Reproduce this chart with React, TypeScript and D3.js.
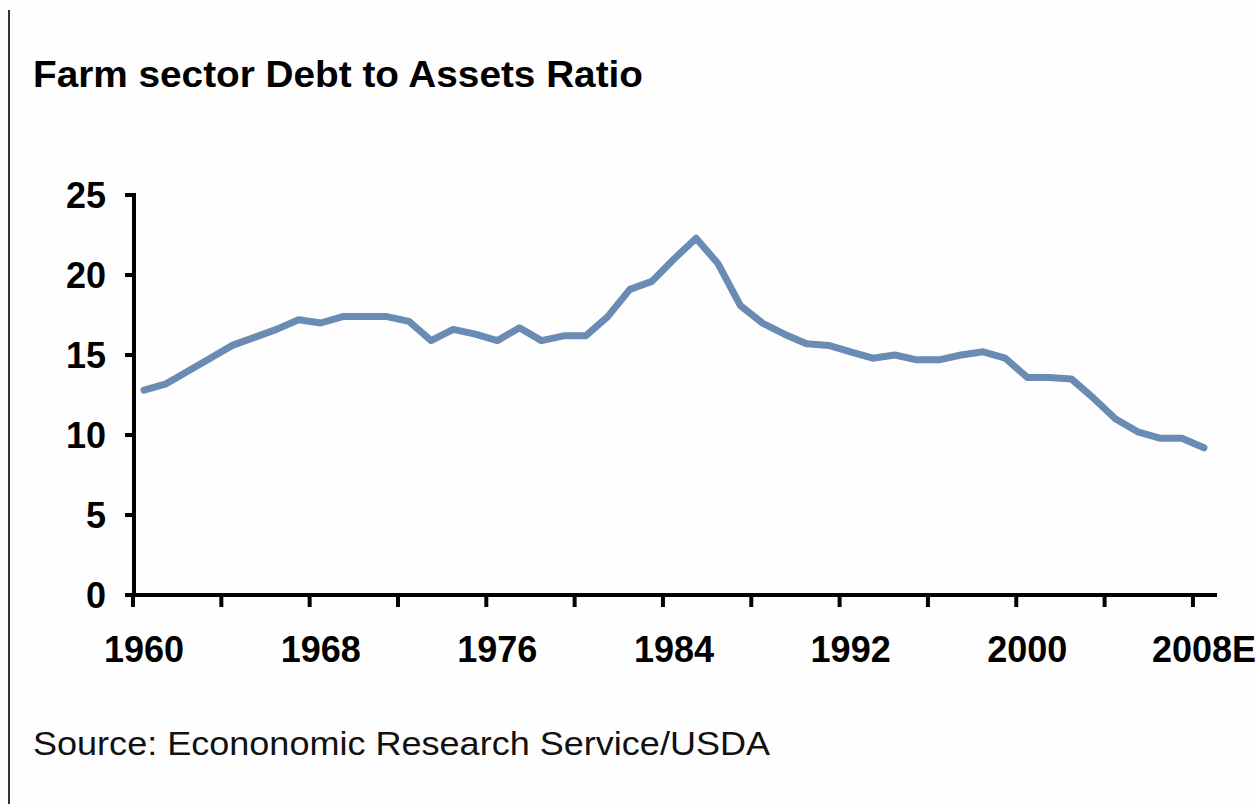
import React from 'react';
import * as d3 from 'd3';

const years: number[] = [
  1960, 1961, 1962, 1963, 1964, 1965, 1966, 1967, 1968, 1969,
  1970, 1971, 1972, 1973, 1974, 1975, 1976, 1977, 1978, 1979,
  1980, 1981, 1982, 1983, 1984, 1985, 1986, 1987, 1988, 1989,
  1990, 1991, 1992, 1993, 1994, 1995, 1996, 1997, 1998, 1999,
  2000, 2001, 2002, 2003, 2004, 2005, 2006, 2007, 2008,
];

const debtToAssets: number[] = [
  12.8, 13.2, 14.0, 14.8, 15.6, 16.1, 16.6, 17.2, 17.0, 17.4,
  17.4, 17.4, 17.1, 15.9, 16.6, 16.3, 15.9, 16.7, 15.9, 16.2,
  16.2, 17.4, 19.1, 19.6, 21.0, 22.3, 20.7, 18.1, 17.0, 16.3,
  15.7, 15.6, 15.2, 14.8, 15.0, 14.7, 14.7, 15.0, 15.2, 14.8,
  13.6, 13.6, 13.5, 12.3, 11.0, 10.2, 9.8, 9.8, 9.2,
];

const tickYears: number[] = [1960, 1964, 1968, 1972, 1976, 1980, 1984, 1988, 1992, 1996, 2000, 2004, 2008];
const labelYears: number[] = [1960, 1968, 1976, 1984, 1992, 2000, 2008];
const labelTexts: string[] = ['1960', '1968', '1976', '1984', '1992', '2000', '2008E'];
const yTicks: number[] = [0, 5, 10, 15, 20, 25];

const title = 'Farm sector Debt to Assets Ratio';
const source = 'Source: Econonomic Research Service/USDA';

export default function App() {
  const W = 1257;
  const H = 804;
  const x = d3.scaleBand<number>().domain(years).range([133, 1215]).paddingInner(0).paddingOuter(0);
  const y = d3.scaleLinear().domain([0, 25]).range([595, 195]);
  const cx = (yr: number) => (x(yr) as number) + x.bandwidth() / 2;

  const line = d3
    .line<number>()
    .x((_, i) => cx(years[i]))
    .y((d) => y(d));

  const font = '"Liberation Sans", Arial, sans-serif';
  const axisColor = '#000';

  return (
    <svg
      width={W}
      height={H}
      viewBox={`0 0 ${W} ${H}`}
      style={{ position: 'absolute', left: 0, top: 0, background: '#fff' }}
    >
      <rect x={0} y={0} width={W} height={H} fill="#fefefe" />
      <line x1={9} x2={9} y1={10} y2={H} stroke="#333" strokeWidth={2} />

      <text
        x={33}
        y={87}
        fontFamily={font}
        fontWeight="bold"
        fontSize={36}
        fill="#000"
        textLength={610}
        lengthAdjust="spacingAndGlyphs"
      >
        {title}
      </text>

      {/* Y axis */}
      <line x1={134} x2={134} y1={y(25) - 2} y2={y(0) + 2} stroke={axisColor} strokeWidth={4} />
      {yTicks.map((t) => (
        <g key={`yt${t}`}>
          <line x1={125} x2={134} y1={y(t)} y2={y(t)} stroke={axisColor} strokeWidth={4} />
          <text
            x={106}
            y={y(t)}
            dy="0.36em"
            textAnchor="end"
            fontFamily={font}
            fontWeight="bold"
            fontSize={36}
            fill="#000"
          >
            {t}
          </text>
        </g>
      ))}

      {/* X axis */}
      <line x1={132} x2={1217} y1={y(0)} y2={y(0)} stroke={axisColor} strokeWidth={4} />
      {tickYears.map((yr) => (
        <line
          key={`xt${yr}`}
          x1={x(yr) as number}
          x2={x(yr) as number}
          y1={y(0)}
          y2={y(0) + 12}
          stroke={axisColor}
          strokeWidth={4}
        />
      ))}
      {labelYears.map((yr, i) => (
        <text
          key={`xl${yr}`}
          x={cx(yr)}
          y={662}
          textAnchor="middle"
          fontFamily={font}
          fontWeight="bold"
          fontSize={36}
          fill="#000"
        >
          {labelTexts[i]}
        </text>
      ))}

      <path
        d={line(debtToAssets) || ''}
        fill="none"
        stroke="#6a8cb4"
        strokeWidth={7}
        strokeLinejoin="round"
        strokeLinecap="round"
      />

      <text
        x={33}
        y={755}
        fontFamily={font}
        fontSize={33}
        fill="#111"
        textLength={737}
        lengthAdjust="spacingAndGlyphs"
      >
        {source}
      </text>
    </svg>
  );
}
